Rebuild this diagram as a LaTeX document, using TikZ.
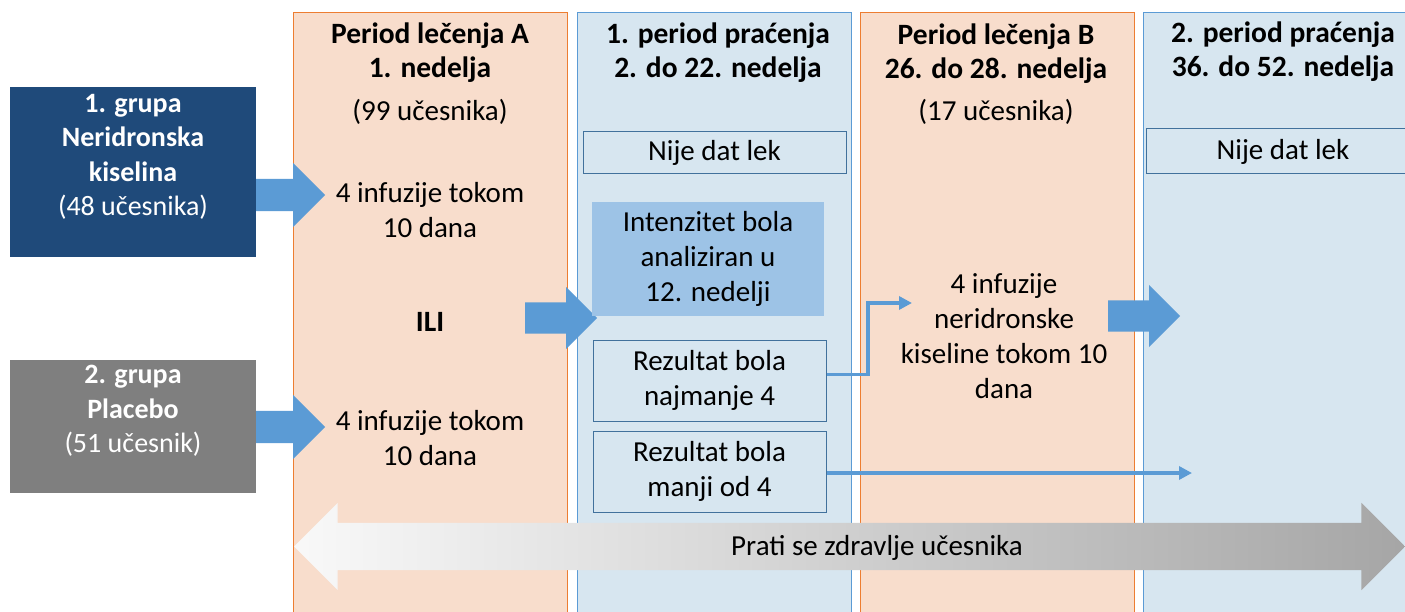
\documentclass[tikz,border=0pt]{standalone}
\usepackage{fontspec}
\setmainfont{Carlito}
\usepackage{xcolor}
\usetikzlibrary{shapes.arrows, arrows.meta, positioning}
\definecolor{treatfill}{HTML}{F8DDCC}
\definecolor{treatline}{HTML}{ED7D31}
\definecolor{followfill}{HTML}{D7E6F0}
\definecolor{followline}{HTML}{5B9BD5}
\definecolor{boxline}{HTML}{41719C}
\definecolor{painfill}{HTML}{9DC3E6}
\definecolor{arrowblue}{HTML}{5B9BD5}
\definecolor{grpone}{HTML}{1F4A7A}
\definecolor{grptwo}{HTML}{7F7F7F}
\tikzset{
  column/.style={rectangle, line width=1pt, minimum width=274pt, minimum height=620pt, anchor=north west},
  treat/.style={column, draw=treatline, fill=treatfill},
  follow/.style={column, draw=followline, fill=followfill},
  txt/.style={align=center, inner sep=0pt, font=\fontsize{29}{35}\selectfont},
  head/.style={txt, font=\bfseries\fontsize{29.5}{34}\selectfont},
  group/.style={rectangle, minimum width=246pt, inner sep=0pt},
  grouptxt/.style={txt, text=white, font=\fontsize{28}{34.5}\selectfont},
  infobox/.style={txt, rectangle, draw=boxline, line width=1pt, fill=followfill, minimum width=233pt, minimum height=81pt},
  blockarrow/.style={single arrow, fill=arrowblue, draw=none, inner xsep=0pt, inner ysep=16pt, single arrow head extend=16pt, anchor=tail},
  flowline/.style={draw=arrowblue, line width=3.5pt, -{Triangle[length=13pt,width=13pt]}}
}
\begin{document}
\begin{tikzpicture}[x=1pt, y=-1pt]
  \useasboundingbox (0,0) rectangle (1405,612);

  % period columns
  \node[treat] (colA) at (293,12) {};
  \node[follow] (colF1) at (577,12) {};
  \node[treat] (colB) at (860,12) {};
  \node[follow] (colF2) at (1143,12) {};

  % groups
  \node[group, fill=grpone, minimum height=170pt] (g1) at (133,172) {};
  \node[grouptxt] (g1txt) at (133,157) {\textbf{1. grupa}\\\textbf{Neridronska}\\\textbf{kiselina}\\(48 učesnika)};
  \node[group, fill=grptwo, minimum height=133pt] (g2) at (133,426.5) {};
  \node[grouptxt] (g2txt) at (133,411) {\textbf{2. grupa}\\\textbf{Placebo}\\(51 učesnik)};

  \node[blockarrow, minimum height=69pt] (toA1) at (256,195) {};
  \node[blockarrow, minimum height=69pt] (toA2) at (256,427) {};

  % treatment period A
  \node[head] (hA) at (430,53) {Period lečenja A\\1. nedelja};
  \node[txt] (nA) at (430,112) {(99 učesnika)};
  \node[txt] (infA1) at (430,210) {4 infuzije tokom\\10 dana};
  \node[head] (ili) at (430,322) {ILI};
  \node[txt] (infA2) at (430,438) {4 infuzije tokom\\10 dana};

  \node[blockarrow, minimum height=72pt, inner ysep=15.5pt, single arrow head extend=15.5pt] (toF1) at (525,318) {};

  % follow-up period 1
  \node[head] (hF1) at (718,53) {1. period praćenja\\2. do 22. nedelja};
  \node[infobox, minimum width=263pt, minimum height=42pt] (none1) at (714.5,153) {Nije dat lek};
  \node[txt, fill=painfill, minimum width=232pt, minimum height=114pt] (pain) at (708,259) {Intenzitet bola\\analiziran u\\12. nedelji};
  \node[infobox] (r1) at (709.5,380.5) {Rezultat bola\\najmanje 4};
  \node[infobox] (r2) at (709.5,471.5) {Rezultat bola\\manji od 4};

  % treatment period B
  \node[head] (hB) at (996,54) {Period lečenja B\\26. do 28. nedelja};
  \node[txt] (nB) at (996,112) {(17 učesnika)};
  \node[txt] (infB) at (1004,336) {4 infuzije\\neridronske\\kiseline tokom 10\\dana};

  \node[blockarrow, minimum height=72pt, inner ysep=15.5pt, single arrow head extend=15.5pt] (toF2) at (1108,316) {};

  % follow-up period 2
  \node[head] (hF2) at (1283,52) {2. period praćenja\\36. do 52. nedelja};
  \node[infobox, minimum width=274pt, minimum height=45pt] (none2) at (1283,151.5) {Nije dat lek};

  \coordinate (bIn) at (912,303);
  \coordinate (f2In) at (1192,473);
  \draw[flowline] ([yshift=6pt]r1.east) -| ([xshift=-44pt]bIn) -- (bIn);
  \draw[flowline] (r2.east |- f2In) -- (f2In);

  % health monitoring
  \node[double arrow, inner xsep=0pt, inner ysep=23.5pt, minimum height=1111pt, double arrow head extend=20pt,
        left color=gray!5, right color=gray!70] (track) at (849.5,546.5) {};
  \node[txt] (trackTxt) at (877,548) {Prati se zdravlje učesnika};
\end{tikzpicture}
\end{document}
